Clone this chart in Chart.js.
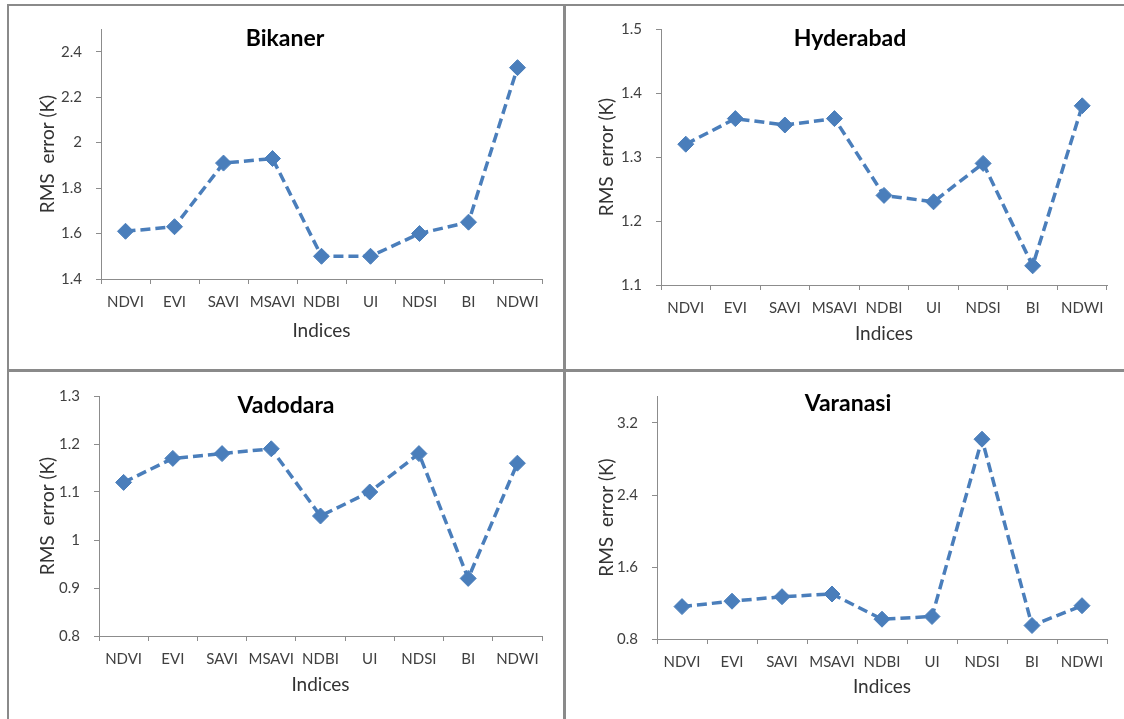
<!DOCTYPE html>
<html>
<head>
<meta charset="utf-8">
<script src="https://cdn.jsdelivr.net/npm/chart.js@4.4.1/dist/chart.umd.min.js"></script>
<style>
  body { margin: 0; background: #fff; }
  #page { position: relative; width: 1124px; height: 719px; overflow: hidden; background: #fff; }
  .line { position: absolute; background: #8a8a8a; }
  canvas { position: absolute; }
</style>
</head>
<body>
<div id="page">
  <div class="line" style="left:7px;top:4px;width:1117px;height:2px"></div>
  <div class="line" style="left:7px;top:4px;width:2px;height:715px"></div>
  <div class="line" style="left:563px;top:4px;width:3px;height:715px"></div>
  <div class="line" style="left:7px;top:369px;width:1117px;height:3px"></div>
  <canvas id="c1" width="554" height="363" style="left:9px;top:6px"></canvas>
  <canvas id="c2" width="558" height="363" style="left:566px;top:6px"></canvas>
  <canvas id="c3" width="554" height="346" style="left:9px;top:373px"></canvas>
  <canvas id="c4" width="558" height="346" style="left:566px;top:373px"></canvas>
</div>
<script>
// data
const indices = ["NDVI", "EVI", "SAVI", "MSAVI", "NDBI", "UI", "NDSI", "BI", "NDWI"]

const bikaner = [1.61, 1.63, 1.91, 1.93, 1.50, 1.50, 1.60, 1.65, 2.33]
const hyderabad = [1.32, 1.36, 1.35, 1.36, 1.24, 1.23, 1.29, 1.13, 1.38]
const vadodara = [1.12, 1.17, 1.18, 1.19, 1.05, 1.10, 1.18, 0.92, 1.16]
const varanasi = [1.16, 1.22, 1.27, 1.30, 1.02, 1.05, 3.02, 0.95, 1.17]

const bikanerTicks = [1.4, 1.6, 1.8, 2.0, 2.2, 2.4]
const hyderabadTicks = [1.1, 1.2, 1.3, 1.4, 1.5]
const vadodaraTicks = [0.8, 0.9, 1.0, 1.1, 1.2, 1.3]
const varanasiTicks = [0.8, 1.6, 2.4, 3.2]

const bikanerRange = [1.4, 2.5]
const hyderabadRange = [1.1, 1.5]
const vadodaraRange = [0.8, 1.3]
const varanasiRange = [0.8, 3.5]

const yTitle = "RMS  error (K)"
const xTitle = "Indices"

const FONT = "Lato, 'Open Sans', sans-serif"
const BLUE = "#4a7ebb"
const AXIS = "#8c8c8c"

// geo: canvas box, plot area and text centres, all in page px
function makeChart(id, title, values, range, ticks, geo) {

    const c = geo.canvas
    const a = geo.area

    const padR = c.x + c.w - a.r
    const padL = Math.max(0, Math.round(2 * (geo.titleX - c.x) - (c.w - padR)))
    const titleSize = 23
    const titleTop = geo.titleY - a.t - titleSize * 1.2 / 2
    const axisTitleSize = 19

    new Chart(document.getElementById(id), {

        type: "line",

        data: {
            labels: indices,
            datasets: [{
                data: values,
                borderColor: BLUE,
                backgroundColor: BLUE,
                borderWidth: 3.5,
                borderDash: [10, 5],
                pointStyle: "rectRot",
                pointRadius: 8,
                pointBorderWidth: 1,
                pointBorderColor: BLUE,
                pointBackgroundColor: BLUE,
                tension: 0
            }]
        },

        options: {
            responsive: false,
            animation: false,
            devicePixelRatio: 1,
            layout: {
                padding: { left: padL, top: a.t - c.y, right: padR, bottom: 0 }
            },
            plugins: {
                legend: { display: false },
                tooltip: { enabled: false },
                title: {
                    display: true,
                    text: title,
                    color: "#000",
                    font: { family: FONT, size: titleSize, weight: "bold" },
                    padding: { top: titleTop, bottom: -(titleSize * 1.2 + titleTop) }
                }
            },
            scales: {
                x: {
                    offset: true,
                    grid: {
                        offset: true,
                        drawOnChartArea: false,
                        drawTicks: true,
                        tickLength: 5,
                        color: AXIS
                    },
                    border: { color: AXIS, width: 1 },
                    ticks: {
                        color: "#404040",
                        font: { family: FONT, size: 15 },
                        padding: 9,
                        maxRotation: 0,
                        autoSkip: false
                    },
                    title: {
                        display: true,
                        text: xTitle,
                        color: "#333",
                        font: { family: FONT, size: axisTitleSize },
                        padding: { top: 0, bottom: (c.y + c.h - geo.xTitleY) - axisTitleSize * 0.6 }
                    },
                    afterFit: s => { s.height = c.y + c.h - a.b }
                },
                y: {
                    min: range[0],
                    max: range[1],
                    grid: {
                        drawOnChartArea: false,
                        drawTicks: true,
                        tickLength: 5,
                        color: AXIS
                    },
                    border: { color: AXIS, width: 1 },
                    ticks: {
                        color: "#404040",
                        font: { family: FONT, size: 15 },
                        padding: 14,
                        callback: v => String(+v.toFixed(2))
                    },
                    afterBuildTicks: s => { s.ticks = ticks.map(v => ({ value: v })) },
                    title: {
                        display: true,
                        text: yTitle,
                        color: "#333",
                        font: { family: FONT, size: axisTitleSize },
                        padding: { top: (geo.yTitleX - c.x - padL) - axisTitleSize * 0.6, bottom: 0 }
                    },
                    afterFit: s => { s.width = a.l - c.x - padL }
                }
            }
        }

    })

}

makeChart("c1", "Bikaner", bikaner, bikanerRange, bikanerTicks, {
    canvas: { x: 9, y: 6, w: 554, h: 363 },
    area: { l: 101, r: 542, t: 27, b: 279 },
    titleX: 285, titleY: 37, yTitleX: 48, xTitleY: 331
})

makeChart("c2", "Hyderabad", hyderabad, hyderabadRange, hyderabadTicks, {
    canvas: { x: 566, y: 6, w: 558, h: 363 },
    area: { l: 661, r: 1107, t: 26, b: 285 },
    titleX: 850, titleY: 36, yTitleX: 607, xTitleY: 334
})

makeChart("c3", "Vadodara", vadodara, vadodaraRange, vadodaraTicks, {
    canvas: { x: 9, y: 373, w: 554, h: 346 },
    area: { l: 99, r: 542, t: 395, b: 636 },
    titleX: 286, titleY: 405, yTitleX: 48, xTitleY: 685
})

makeChart("c4", "Varanasi", varanasi, varanasiRange, varanasiTicks, {
    canvas: { x: 566, y: 373, w: 558, h: 346 },
    area: { l: 657, r: 1107, t: 394, b: 639 },
    titleX: 848, titleY: 402, yTitleX: 607, xTitleY: 687
})
</script>
</body>
</html>
